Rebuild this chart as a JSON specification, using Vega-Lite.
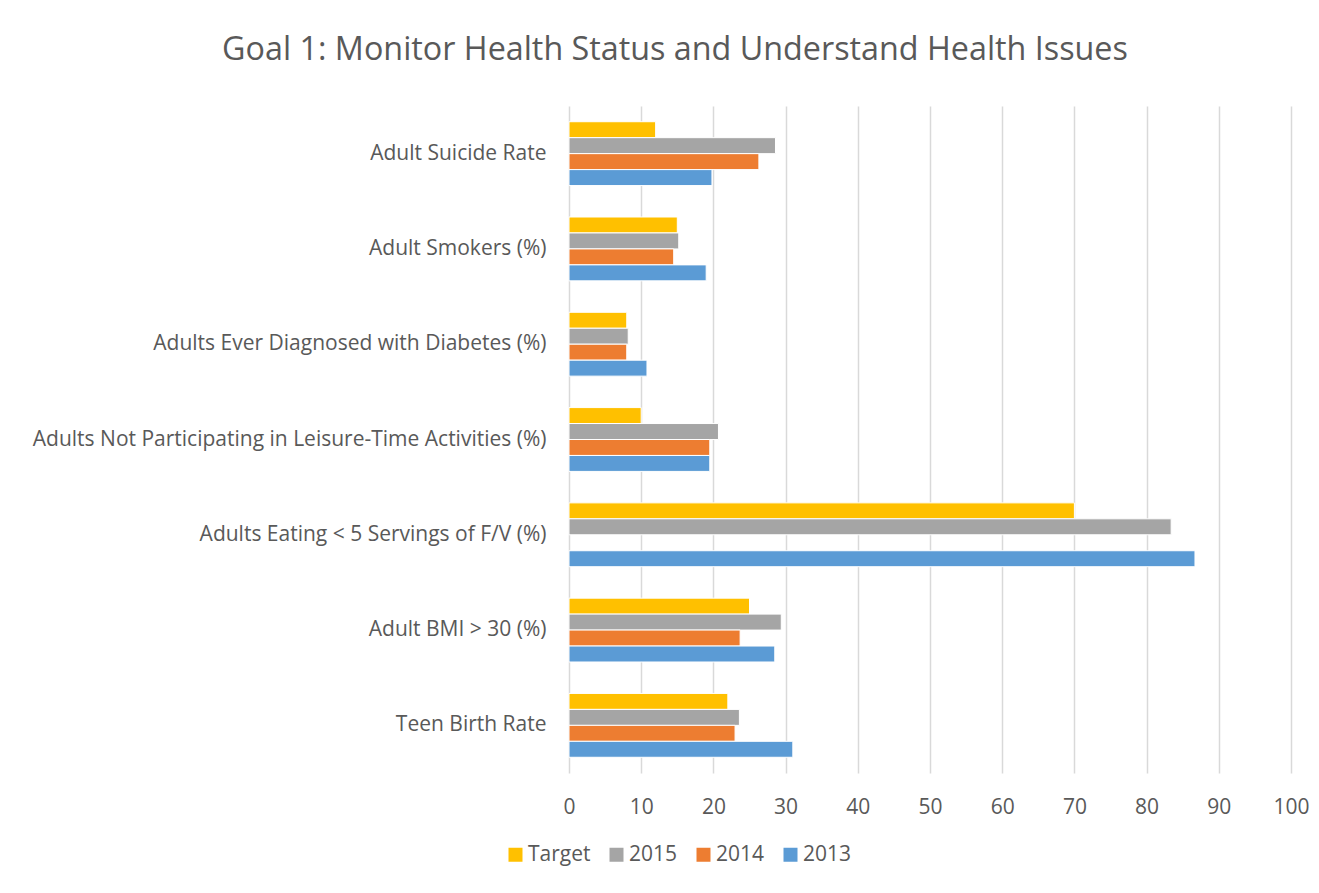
{
  "$schema": "https://vega.github.io/schema/vega-lite/v6.json",
  "autosize": {"type": "none"},
  "width": 722,
  "height": 667,
  "padding": {"left": 569, "top": 106, "right": 28, "bottom": 120},
  "background": "white",
  "title": {
    "text": "Goal 1: Monitor Health Status and Understand Health Issues",
    "font": "Open Sans",
    "fontSize": 32.3,
    "fontWeight": "normal",
    "color": "#595959",
    "anchor": "middle",
    "dx": -255,
    "offset": 40
  },
  "data": {
    "values": [
      {"category": "Adult Suicide Rate", "series": "Target", "value": 12},
      {"category": "Adult Suicide Rate", "series": "2015", "value": 28.6},
      {"category": "Adult Suicide Rate", "series": "2014", "value": 26.3},
      {"category": "Adult Suicide Rate", "series": "2013", "value": 19.8},
      {"category": "Adult Smokers (%)", "series": "Target", "value": 15},
      {"category": "Adult Smokers (%)", "series": "2015", "value": 15.2},
      {"category": "Adult Smokers (%)", "series": "2014", "value": 14.5},
      {"category": "Adult Smokers (%)", "series": "2013", "value": 19},
      {"category": "Adults Ever Diagnosed with Diabetes (%)", "series": "Target", "value": 8},
      {"category": "Adults Ever Diagnosed with Diabetes (%)", "series": "2015", "value": 8.2},
      {"category": "Adults Ever Diagnosed with Diabetes (%)", "series": "2014", "value": 8},
      {"category": "Adults Ever Diagnosed with Diabetes (%)", "series": "2013", "value": 10.8},
      {"category": "Adults Not Participating in Leisure-Time Activities (%)", "series": "Target", "value": 10},
      {"category": "Adults Not Participating in Leisure-Time Activities (%)", "series": "2015", "value": 20.7},
      {"category": "Adults Not Participating in Leisure-Time Activities (%)", "series": "2014", "value": 19.5},
      {"category": "Adults Not Participating in Leisure-Time Activities (%)", "series": "2013", "value": 19.5},
      {"category": "Adults Eating < 5 Servings of F/V (%)", "series": "Target", "value": 70},
      {"category": "Adults Eating < 5 Servings of F/V (%)", "series": "2015", "value": 83.4},
      {"category": "Adults Eating < 5 Servings of F/V (%)", "series": "2013", "value": 86.7},
      {"category": "Adult BMI > 30 (%)", "series": "Target", "value": 25},
      {"category": "Adult BMI > 30 (%)", "series": "2015", "value": 29.4},
      {"category": "Adult BMI > 30 (%)", "series": "2014", "value": 23.7},
      {"category": "Adult BMI > 30 (%)", "series": "2013", "value": 28.5},
      {"category": "Teen Birth Rate", "series": "Target", "value": 22},
      {"category": "Teen Birth Rate", "series": "2015", "value": 23.6},
      {"category": "Teen Birth Rate", "series": "2014", "value": 23},
      {"category": "Teen Birth Rate", "series": "2013", "value": 31}
    ]
  },
  "mark": {"type": "bar", "stroke": "white", "strokeWidth": 1},
  "encoding": {
    "y": {
      "field": "category",
      "type": "nominal",
      "sort": null,
      "scale": {"paddingInner": 0.33, "paddingOuter": 0.165},
      "axis": {
        "title": null,
        "domain": false,
        "ticks": false,
        "labelPadding": 23,
        "labelFont": "Open Sans",
        "labelFontSize": 21,
        "labelColor": "#595959",
        "labelLimit": 0
      }
    },
    "yOffset": {
      "field": "series",
      "type": "nominal",
      "sort": ["Target", "2015", "2014", "2013"],
      "scale": {"paddingInner": 0, "paddingOuter": 0}
    },
    "x": {
      "field": "value",
      "type": "quantitative",
      "scale": {"domain": [0, 100], "nice": false},
      "axis": {
        "title": null,
        "values": [0, 10, 20, 30, 40, 50, 60, 70, 80, 90, 100],
        "domain": false,
        "ticks": false,
        "grid": true,
        "gridColor": "#d9d9d9",
        "gridWidth": 1.5,
        "labelFlush": false,
        "labelPadding": 23,
        "labelFont": "Open Sans",
        "labelFontSize": 21,
        "labelColor": "#595959"
      }
    },
    "color": {
      "field": "series",
      "type": "nominal",
      "scale": {
        "domain": ["Target", "2015", "2014", "2013"],
        "range": ["#FFC000", "#A5A5A5", "#ED7D31", "#5B9BD5"]
      },
      "legend": {
        "title": null,
        "orient": "none",
        "direction": "horizontal",
        "legendX": -64,
        "legendY": 738,
        "symbolType": "square",
        "symbolSize": 196,
        "symbolStrokeWidth": 0,
        "labelFont": "Open Sans",
        "labelFontSize": 21,
        "labelColor": "#595959",
        "labelOffset": 2,
        "columnPadding": 15
      }
    }
  },
  "config": {
    "view": {"stroke": null}
  }
}
